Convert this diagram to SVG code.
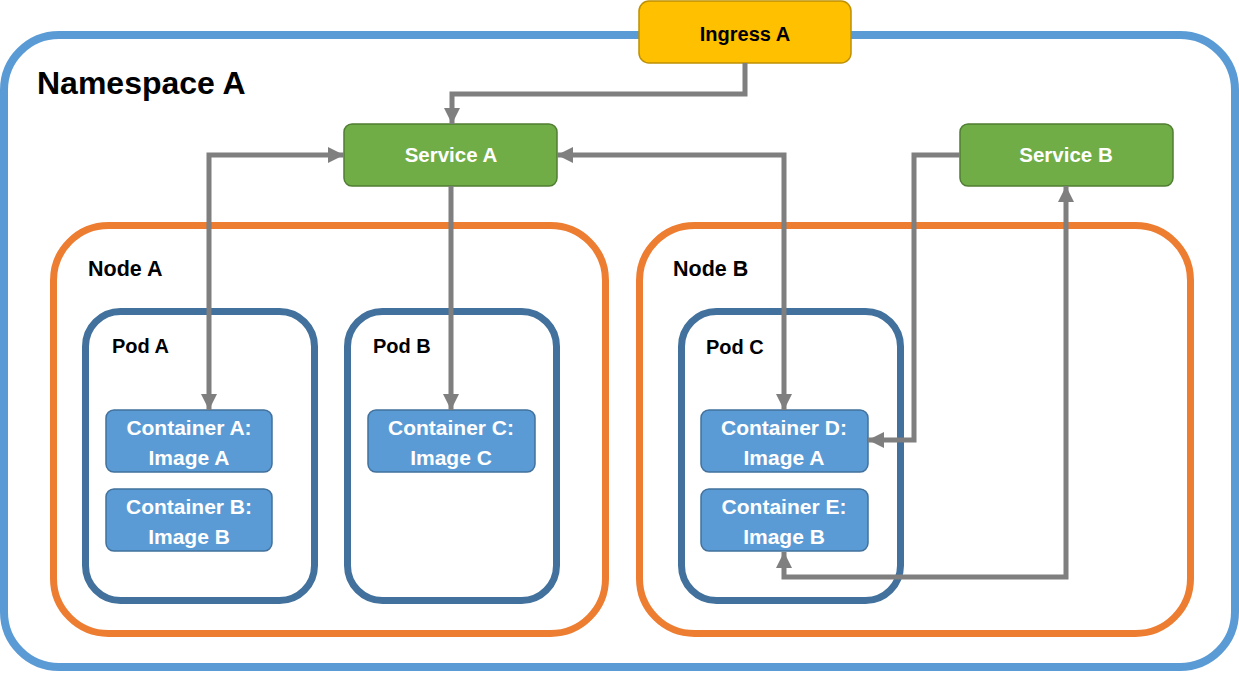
<svg xmlns="http://www.w3.org/2000/svg" width="1239" height="675" viewBox="0 0 1239 675">
<style>
text{font-family:"Liberation Sans",Arial,sans-serif;font-weight:bold}
.ns{fill:#fff;stroke:#5B9BD5;stroke-width:8}
.node{fill:none;stroke:#ED7D31;stroke-width:7}
.pod{fill:none;stroke:#41719C;stroke-width:7}
.ctr{fill:#5B9BD5;stroke:#41719C;stroke-width:1.5}
.svc{fill:#70AD47;stroke:#507E32;stroke-width:1.5}
.ing{fill:#FFC000;stroke:#BF9000;stroke-width:1.5}
.wt{fill:#fff;font-size:21px;text-anchor:middle}
.lbl{fill:#000;font-size:20px}
.nl{fill:#000;font-size:21.5px}
.cn{fill:none;stroke:#7F7F7F;stroke-width:5}
</style>
<defs>
<marker id="ah" viewBox="0 0 16 16" refX="16" refY="8" markerWidth="16" markerHeight="16" markerUnits="userSpaceOnUse" orient="auto-start-reverse">
<path d="M0,0 L16,8 L0,16 z" fill="#7F7F7F"/>
</marker>
</defs>
<g id="namespace-a">
<rect class="ns" x="4" y="35" width="1231" height="632" rx="55"/>
<text x="37" y="94" style="font-size:32px">Namespace A</text>
</g>
<g id="node-a">
<rect class="node" x="53.5" y="225.5" width="552" height="408" rx="55"/>
<text class="nl" x="88" y="276">Node A</text>
</g>
<g id="node-b">
<rect class="node" x="639.5" y="225.5" width="551" height="408" rx="55"/>
<text class="nl" x="673" y="276">Node B</text>
</g>
<g id="pod-a">
<rect class="pod" x="85.5" y="311.5" width="229" height="289" rx="35"/>
<text class="lbl" x="112" y="353">Pod A</text>
</g>
<g id="pod-b">
<rect class="pod" x="347.5" y="311.5" width="209" height="289" rx="35"/>
<text class="lbl" x="373" y="353">Pod B</text>
</g>
<g id="pod-c">
<rect class="pod" x="681.5" y="311.5" width="219" height="289" rx="35"/>
<text class="lbl" x="706" y="354">Pod C</text>
</g>
<g id="container-a">
<rect class="ctr" x="106" y="410" width="166" height="62" rx="8"/>
<text class="wt" x="189" y="435">Container A:</text>
<text class="wt" x="189" y="465">Image A</text>
</g>
<g id="container-b">
<rect class="ctr" x="106" y="489" width="166" height="62" rx="8"/>
<text class="wt" x="189" y="514">Container B:</text>
<text class="wt" x="189" y="544">Image B</text>
</g>
<g id="container-c">
<rect class="ctr" x="368" y="410" width="167" height="62" rx="8"/>
<text class="wt" x="451" y="435">Container C:</text>
<text class="wt" x="451" y="465">Image C</text>
</g>
<g id="container-d">
<rect class="ctr" x="701" y="410" width="167" height="62" rx="8"/>
<text class="wt" x="784" y="435">Container D:</text>
<text class="wt" x="784" y="465">Image A</text>
</g>
<g id="container-e">
<rect class="ctr" x="701" y="489" width="167" height="62" rx="8"/>
<text class="wt" x="784" y="514">Container E:</text>
<text class="wt" x="784" y="544">Image B</text>
</g>
<g id="ingress-a">
<rect class="ing" x="639" y="1" width="212" height="62" rx="10"/>
<text x="745" y="41" style="font-size:20px;text-anchor:middle;fill:#000">Ingress A</text>
</g>
<g id="service-a">
<rect class="svc" x="344" y="124" width="213" height="62" rx="8"/>
<text class="wt" x="451" y="162" style="font-size:20.5px">Service A</text>
</g>
<g id="service-b">
<rect class="svc" x="960" y="124" width="213" height="62" rx="8"/>
<text class="wt" x="1066" y="162" style="font-size:20.5px">Service B</text>
</g>
<g id="connectors">
<path class="cn" d="M745,63 V94 H452 V124" marker-end="url(#ah)"/>
<path class="cn" d="M344,155 H209 V410" marker-start="url(#ah)" marker-end="url(#ah)"/>
<path class="cn" d="M451,186 V410" marker-end="url(#ah)"/>
<path class="cn" d="M557,155 H784 V410" marker-start="url(#ah)" marker-end="url(#ah)"/>
<path class="cn" d="M960,155 H914 V440 H868" marker-end="url(#ah)"/>
<path class="cn" d="M784,552 V577 H1066 V186" marker-start="url(#ah)" marker-end="url(#ah)"/>
</g>
</svg>
